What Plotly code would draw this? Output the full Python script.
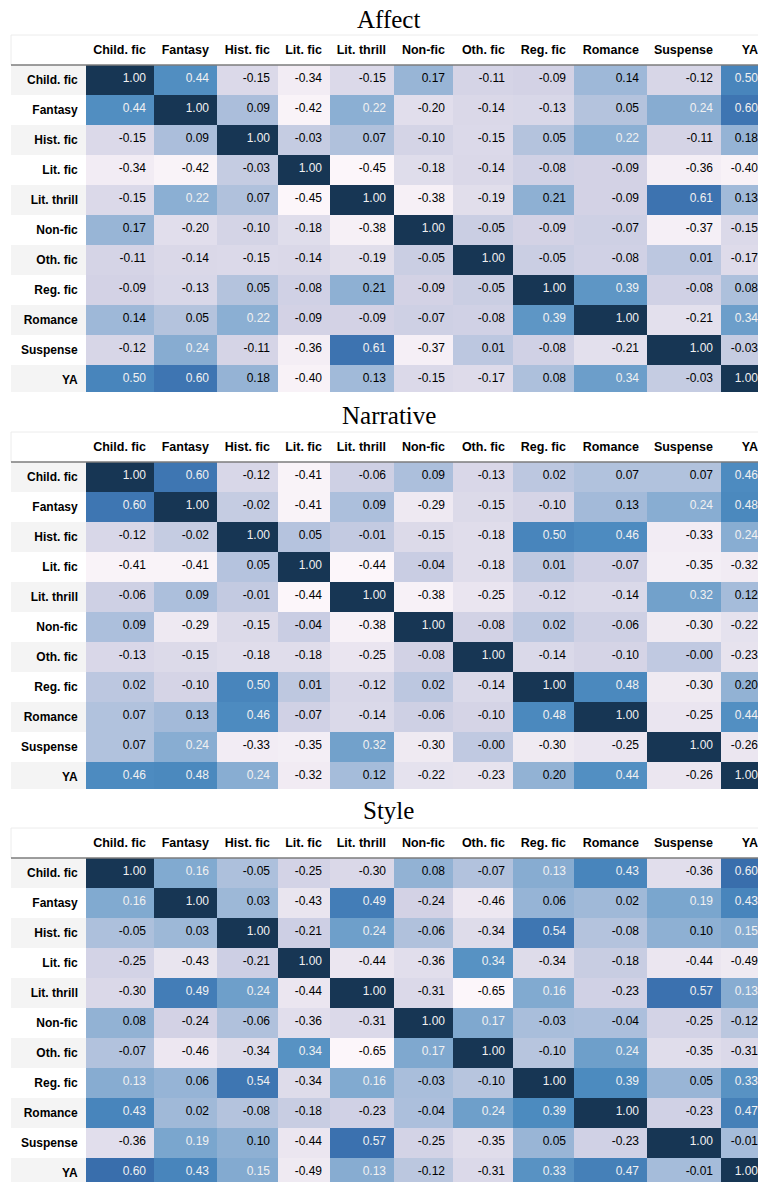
import numpy as np
import plotly.graph_objects as go

genres = ["Child. fic", "Fantasy", "Hist. fic", "Lit. fic", "Lit. thrill", "Non-fic",
          "Oth. fic", "Reg. fic", "Romance", "Suspense", "YA"]

affect = [
    [1.00, 0.44, -0.15, -0.34, -0.15, 0.17, -0.11, -0.09, 0.14, -0.12, 0.50],
    [0.44, 1.00, 0.09, -0.42, 0.22, -0.20, -0.14, -0.13, 0.05, 0.24, 0.60],
    [-0.15, 0.09, 1.00, -0.03, 0.07, -0.10, -0.15, 0.05, 0.22, -0.11, 0.18],
    [-0.34, -0.42, -0.03, 1.00, -0.45, -0.18, -0.14, -0.08, -0.09, -0.36, -0.40],
    [-0.15, 0.22, 0.07, -0.45, 1.00, -0.38, -0.19, 0.21, -0.09, 0.61, 0.13],
    [0.17, -0.20, -0.10, -0.18, -0.38, 1.00, -0.05, -0.09, -0.07, -0.37, -0.15],
    [-0.11, -0.14, -0.15, -0.14, -0.19, -0.05, 1.00, -0.05, -0.08, 0.01, -0.17],
    [-0.09, -0.13, 0.05, -0.08, 0.21, -0.09, -0.05, 1.00, 0.39, -0.08, 0.08],
    [0.14, 0.05, 0.22, -0.09, -0.09, -0.07, -0.08, 0.39, 1.00, -0.21, 0.34],
    [-0.12, 0.24, -0.11, -0.36, 0.61, -0.37, 0.01, -0.08, -0.21, 1.00, -0.03],
    [0.50, 0.60, 0.18, -0.40, 0.13, -0.15, -0.17, 0.08, 0.34, -0.03, 1.00],
]

narrative = [
    [1.00, 0.60, -0.12, -0.41, -0.06, 0.09, -0.13, 0.02, 0.07, 0.07, 0.46],
    [0.60, 1.00, -0.02, -0.41, 0.09, -0.29, -0.15, -0.10, 0.13, 0.24, 0.48],
    [-0.12, -0.02, 1.00, 0.05, -0.01, -0.15, -0.18, 0.50, 0.46, -0.33, 0.24],
    [-0.41, -0.41, 0.05, 1.00, -0.44, -0.04, -0.18, 0.01, -0.07, -0.35, -0.32],
    [-0.06, 0.09, -0.01, -0.44, 1.00, -0.38, -0.25, -0.12, -0.14, 0.32, 0.12],
    [0.09, -0.29, -0.15, -0.04, -0.38, 1.00, -0.08, 0.02, -0.06, -0.30, -0.22],
    [-0.13, -0.15, -0.18, -0.18, -0.25, -0.08, 1.00, -0.14, -0.10, -0.00, -0.23],
    [0.02, -0.10, 0.50, 0.01, -0.12, 0.02, -0.14, 1.00, 0.48, -0.30, 0.20],
    [0.07, 0.13, 0.46, -0.07, -0.14, -0.06, -0.10, 0.48, 1.00, -0.25, 0.44],
    [0.07, 0.24, -0.33, -0.35, 0.32, -0.30, -0.00, -0.30, -0.25, 1.00, -0.26],
    [0.46, 0.48, 0.24, -0.32, 0.12, -0.22, -0.23, 0.20, 0.44, -0.26, 1.00],
]

style = [
    [1.00, 0.16, -0.05, -0.25, -0.30, 0.08, -0.07, 0.13, 0.43, -0.36, 0.60],
    [0.16, 1.00, 0.03, -0.43, 0.49, -0.24, -0.46, 0.06, 0.02, 0.19, 0.43],
    [-0.05, 0.03, 1.00, -0.21, 0.24, -0.06, -0.34, 0.54, -0.08, 0.10, 0.15],
    [-0.25, -0.43, -0.21, 1.00, -0.44, -0.36, 0.34, -0.34, -0.18, -0.44, -0.49],
    [-0.30, 0.49, 0.24, -0.44, 1.00, -0.31, -0.65, 0.16, -0.23, 0.57, 0.13],
    [0.08, -0.24, -0.06, -0.36, -0.31, 1.00, 0.17, -0.03, -0.04, -0.25, -0.12],
    [-0.07, -0.46, -0.34, 0.34, -0.65, 0.17, 1.00, -0.10, 0.24, -0.35, -0.31],
    [0.13, 0.06, 0.54, -0.34, 0.16, -0.03, -0.10, 1.00, 0.39, 0.05, 0.33],
    [0.43, 0.02, -0.08, -0.18, -0.23, -0.04, 0.24, 0.39, 1.00, -0.23, 0.47],
    [-0.36, 0.19, 0.10, -0.44, 0.57, -0.25, -0.35, 0.05, -0.23, 1.00, -0.01],
    [0.60, 0.43, 0.15, -0.49, 0.13, -0.12, -0.31, 0.33, 0.47, -0.01, 1.00],
]

titles = ["Affect", "Narrative", "Style"]
matrices = [affect, narrative, style]

# ---- styling ----
W, H = 766, 1182
OFF = 8  # page body margin offset
# PuBu (for text-colour decision) and its displayed appearance (for fills)
PUBU = ["#fff7fb", "#ece7f2", "#d0d1e6", "#a6bddb", "#74a9cf",
        "#3690c0", "#0570b0", "#045a8d", "#023858"]
PUBU_SHOWN = ["#fcf6fa", "#ebe6f0", "#d2d2e5", "#aabedb", "#7ea8cf",
              "#4d8cc0", "#3a6fae", "#2c5787", "#173654"]


def to_rgb(lst):
    return np.array([[int(h[i:i + 2], 16) for i in (1, 3, 5)] for h in lst], float) / 255.0


RGB_A = to_rgb(PUBU)
RGB_B = to_rgb(PUBU_SHOWN)


def cmap(t, tab):
    t = min(max(t, 0.0), 1.0)
    t = min(int(t * 256), 255) / 255.0
    pos = t * (len(tab) - 1)
    i = min(int(pos), len(tab) - 2)
    f = pos - i
    return tab[i] * (1 - f) + tab[i + 1] * f


def lum(c):
    lin = [x / 12.92 if x <= 0.03928 else ((x + 0.055) / 1.055) ** 2.4 for x in c]
    return 0.2126 * lin[0] + 0.7152 * lin[1] + 0.0722 * lin[2]


def hexc(c):
    return "#%02x%02x%02x" % tuple(int(round(v * 255)) for v in c)


NB = "\u00a0"
FONT = "Liberation Sans, Arial, Helvetica, sans-serif"
col_widths = [75, 68, 63, 61, 52, 64, 59, 60, 61, 73, 74, 45]
x0_px, x1_px = 11 - OFF, 766 - OFF
tops = [35 - OFF, 432 - OFF, 828 - OFF]
title_y = [19 - OFF, 415 - OFF, 811 - OFF]
head_h = 30
row_h = 29.55

fig = go.Figure()
shapes = []
annotations = []

for k, (title, mat) in enumerate(zip(titles, matrices)):
    m = np.array(mat, float)
    vmin, vmax = m.min(), m.max()
    n = len(genres)
    values = [["<b>%s</b>" % g.replace(" ", NB) for g in genres]]
    fills = [["#f4f4f4" if r % 2 == 0 else "#ffffff" for r in range(n)]]
    fcolors = [["#000000"] * n]
    for j in range(n):
        colv, colf, colc = [], [], []
        for i in range(n):
            v = m[i, j]
            t = (v - vmin) / (vmax - vmin)
            colv.append(format(v, ".2f"))
            colf.append(hexc(cmap(t, RGB_B)))
            colc.append("#f1f1f1" if lum(cmap(t, RGB_A)) < 0.408 else "#000000")
        values.append(colv)
        fills.append(colf)
        fcolors.append(colc)

    top = tops[k]
    bottom = top + head_h + n * row_h
    ybot = max(0.0, 1 - (bottom + 2) / H)
    fig.add_trace(go.Table(
        domain=dict(x=[x0_px / W, x1_px / W], y=[ybot, 1 - top / H]),
        columnwidth=col_widths,
        header=dict(values=[""] + ["<b>%s</b>" % g.replace(" ", NB) for g in genres],
                    align="right", height=head_h,
                    fill=dict(color="white"),
                    line=dict(width=0, color="white"),
                    font=dict(family=FONT, size=12.5, color="black")),
        cells=dict(values=values, align="right", height=row_h,
                   fill=dict(color=fills),
                   line=dict(width=0, color="white"),
                   font=dict(family=FONT, size=12, color=fcolors)),
    ))
    annotations.append(dict(text=title, x=(x0_px + x1_px) / 2 / W, y=1 - title_y[k] / H,
                            xref="paper", yref="paper", xanchor="center", yanchor="middle",
                            showarrow=False,
                            font=dict(family="Liberation Serif, Times New Roman, serif",
                                      size=25, color="black")))
    shapes.append(dict(type="rect", xref="paper", yref="paper",
                       x0=x0_px / W, x1=x1_px / W,
                       y0=1 - (top + head_h) / H, y1=1 - top / H,
                       line=dict(color="#ececec", width=1), layer="above"))
    shapes.append(dict(type="line", xref="paper", yref="paper",
                       x0=x0_px / W, x1=x1_px / W,
                       y0=1 - (top + head_h) / H, y1=1 - (top + head_h) / H,
                       line=dict(color="#444444", width=1.2), layer="above"))

fig.update_layout(width=W, height=H, margin=dict(l=0, r=0, t=0, b=0),
                  paper_bgcolor="white", plot_bgcolor="white",
                  shapes=shapes, annotations=annotations, showlegend=False)

fig.write_html("out.html")
